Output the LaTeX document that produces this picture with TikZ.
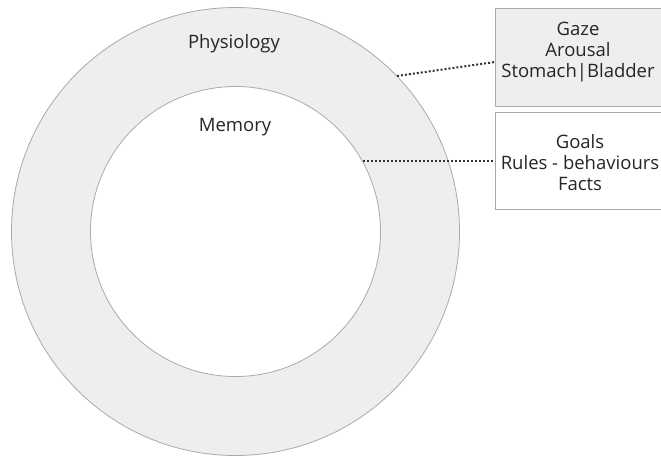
\documentclass[tikz,border=0pt]{standalone}
\usepackage{fontspec}
\setmainfont{Open Sans}
\definecolor{ring}{HTML}{EEEEEE}
\definecolor{edge}{HTML}{AAAAAA}
\definecolor{leader}{HTML}{333333}

\tikzset{
  label/.style={font=\fontsize{18.5}{21}\selectfont,text=black!85,align=center},
  infobox/.style={draw=edge,line width=0.8pt,minimum width=175pt,anchor=north west},
  leaderline/.style={draw=leader,line width=2pt,dash pattern=on 2pt off 2pt}
}

\begin{document}
\begin{tikzpicture}[x=1pt,y=-1pt]
\useasboundingbox (0,0) rectangle (661,459);
\begin{scope}
\clip (0,0) rectangle (661,459);
% rings
\fill[ring,draw=edge,line width=0.8pt] (235.5,231.5) circle (224);
\fill[white,draw=edge,line width=0.8pt] (235.5,231.5) circle (145);
\node[label] (physio) at (234,44) {Physiology};
\node[label] (memory) at (235,127) {Memory};
% side boxes
\node[infobox,fill=ring,minimum height=98pt] (body) at (495,8) {};
\node[label] (bodytxt) at (578,52) {Gaze\\Arousal\\Stomach|Bladder};
\node[infobox,fill=white,minimum height=97pt] (mind) at (495,112) {};
\node[label] (mindtxt) at (580,163) {Goals\\Rules - behaviours\\Facts};
% leaders
\coordinate (p1) at (397,76);
\coordinate (p2) at (363,161);
\draw[leaderline] (p1) -- (body.west |- 0,62);
\draw[leaderline] (p2) -- (mind.west |- p2);
\end{scope}
\end{tikzpicture}
\end{document}
